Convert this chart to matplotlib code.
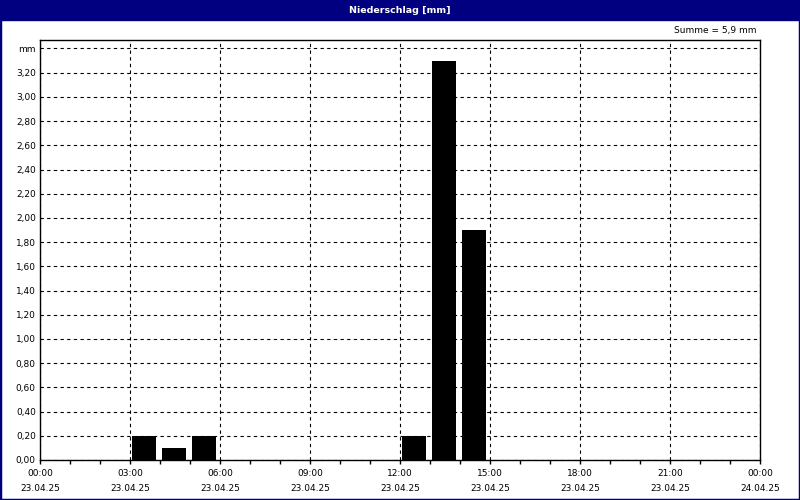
import matplotlib
matplotlib.use("Agg")
import matplotlib.pyplot as plt
from matplotlib.patches import Rectangle
import numpy as np

# Stundenwerte Niederschlag (Beginn der Stunde)
stunden = [3, 4, 5, 12, 13, 14]
niederschlag = [0.2, 0.1, 0.2, 0.2, 3.3, 1.9]

x_ticks = [0, 3, 6, 9, 12, 15, 18, 21, 24]
x_zeiten = ["00:00", "03:00", "06:00", "09:00", "12:00", "15:00", "18:00", "21:00", "00:00"]
x_daten = ["23.04.25"] * 8 + ["24.04.25"]
y_ticks = [0.0, 0.2, 0.4, 0.6, 0.8, 1.0, 1.2, 1.4, 1.6, 1.8, 2.0, 2.2, 2.4, 2.6, 2.8, 3.0, 3.2, 3.4]

titel = "Niederschlag [mm]"
summe = "Summe = 5,9 mm"
navy = "#000080"

plt.rcParams["font.family"] = ["DejaVu Sans"]
fig = plt.figure(figsize=(8, 5), dpi=100)
fig.patch.set_facecolor("white")

# Rahmen und Titelleiste
fig.patches.append(Rectangle((0, 0), 1, 1, transform=fig.transFigure,
                             fill=False, edgecolor=navy, lw=2.5))
fig.patches.append(Rectangle((0, 0.96), 1, 0.04, transform=fig.transFigure,
                             facecolor=navy, edgecolor=navy))
fig.text(0.5, 0.979, titel, color="white", fontsize=6.8, fontweight="bold",
         ha="center", va="center")
fig.text(0.945, 0.938, summe, fontsize=6.5, ha="right", va="center")

ax = fig.add_axes([0.05, 0.08, 0.90, 0.84])
ax.bar(np.array(stunden) + 0.06, niederschlag, width=0.82, align="edge",
       color="black", zorder=3)

ax.set_xlim(0, 24)
ax.set_ylim(0, 3.47)
ax.set_xticks(x_ticks)
ax.set_xticklabels([z + "\n" + d for z, d in zip(x_zeiten, x_daten)],
                   fontsize=6.5, linespacing=1.85)
ax.set_xticks(range(25), minor=True)
ax.tick_params(axis="x", which="both", direction="out", length=3, width=1, pad=3.5)

ax.set_yticks(y_ticks)
ylabels = [("%.2f" % v).replace(".", ",") for v in y_ticks]
ylabels[-1] = "mm"
ax.set_yticklabels(ylabels, fontsize=6.5)
ax.tick_params(axis="y", length=0, pad=3)

ax.grid(True, which="major", color="black", linestyle=(0, (3, 3)), lw=0.8, zorder=1)
for sp in ax.spines.values():
    sp.set_linewidth(1)
    sp.set_color("black")

fig.savefig("out.png", dpi=100)
